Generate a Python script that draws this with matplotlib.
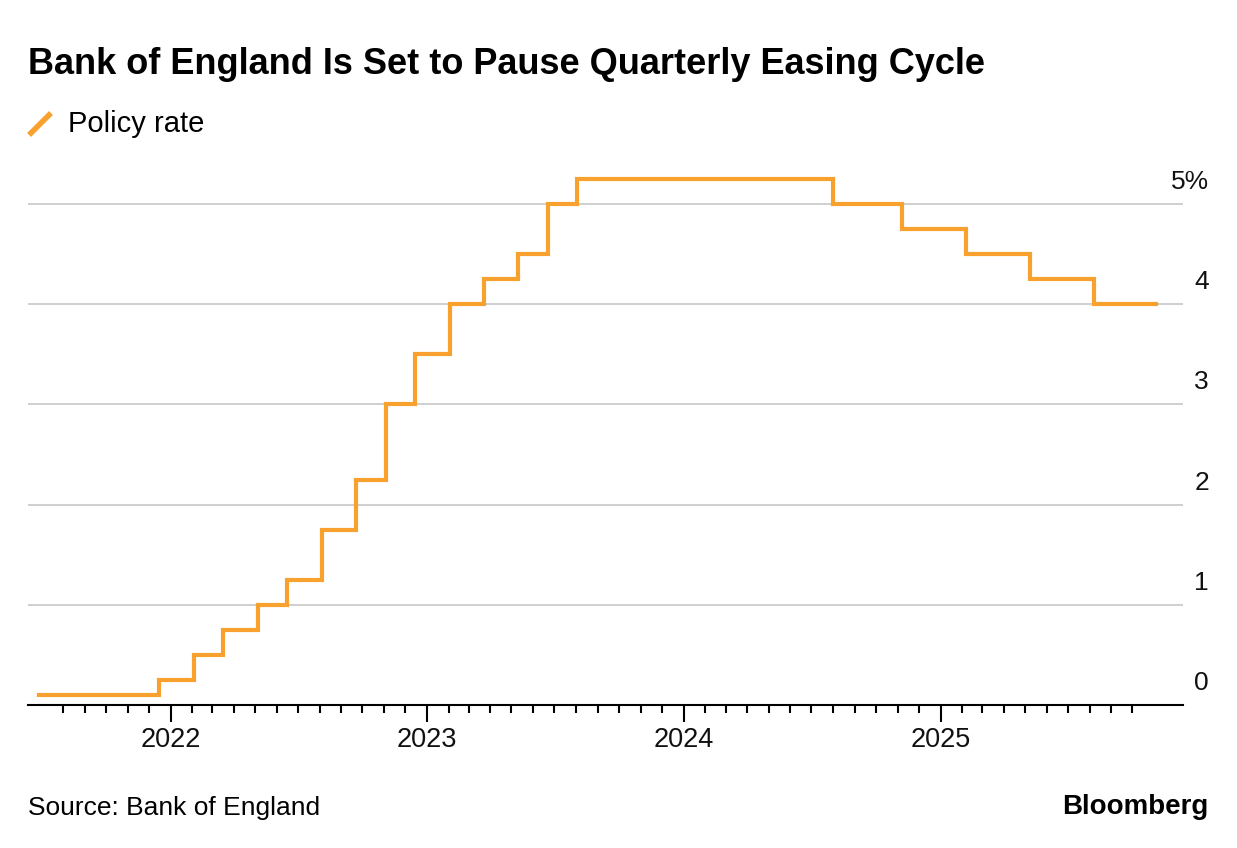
import pandas as pd
import matplotlib
matplotlib.use('Agg')
import matplotlib.pyplot as plt
import matplotlib.transforms as mtransforms
from matplotlib.lines import Line2D

# Bank Rate decisions (date of change, new rate %)
change_dates = ['2021-06-28', '2021-12-16', '2022-02-03', '2022-03-17', '2022-05-05',
                '2022-06-16', '2022-08-04', '2022-09-22', '2022-11-03', '2022-12-15',
                '2023-02-02', '2023-03-23', '2023-05-11', '2023-06-22', '2023-08-03',
                '2024-08-01', '2024-11-07', '2025-02-06', '2025-05-08', '2025-08-07',
                '2025-11-04']
rates = [0.1, 0.25, 0.5, 0.75, 1.0,
         1.25, 1.75, 2.25, 3.0, 3.5,
         4.0, 4.25, 4.5, 5.0, 5.25,
         5.0, 4.75, 4.5, 4.25, 4.0,
         4.0]
y_ticks = [0, 1, 2, 3, 4, 5]
y_labels = ['0', '1', '2', '3', '4', '5%']
year_ticks = ['2022-01-01', '2023-01-01', '2024-01-01', '2025-01-01']
year_labels = ['2022', '2023', '2024', '2025']

df = pd.DataFrame({'date': pd.to_datetime(change_dates), 'rate': rates})

orange = '#F9A12E'
plt.rcParams['font.family'] = ['Liberation Sans', 'DejaVu Sans']

fig = plt.figure(figsize=(12.37, 8.48), dpi=100)
ax = fig.add_axes([0.0226, 0.1686, 0.9338, 0.638])

ax.step(df['date'], df['rate'], where='post', color=orange, lw=3.0,
        solid_joinstyle='miter', zorder=3)

ax.set_xlim(pd.Timestamp('2021-06-12'), pd.Timestamp('2025-12-12'))
ax.set_ylim(0, 5.4)

# gridlines and right-side labels
trans = mtransforms.blended_transform_factory(fig.transFigure, ax.transData)
for v, lab in zip(y_ticks, y_labels):
    if v > 0:
        ax.axhline(v, color='#cccccc', lw=1.3, zorder=1)
    ax.text(1209 / 1237, v + 0.1, lab, transform=trans, ha='right', va='bottom',
            fontsize=19, color='#111111')
ax.set_yticks([])

for s in ['top', 'right', 'left']:
    ax.spines[s].set_visible(False)
ax.spines['bottom'].set_color('black')
ax.spines['bottom'].set_linewidth(1.5)

ax.set_xticks(pd.to_datetime(year_ticks))
ax.set_xticklabels(year_labels, fontsize=19.5, color='#111111')
ax.set_xticks(pd.date_range('2021-08-01', '2025-10-01', freq='MS'), minor=True)
ax.tick_params(axis='x', which='major', length=12, width=1.5, pad=4)
ax.tick_params(axis='x', which='minor', length=6, width=1.5)

# title, legend, footer
fig.text(28 / 1237, 1 - 64 / 848, 'Bank of England Is Set to Pause Quarterly Easing Cycle',
         fontsize=26, fontweight='bold', va='center', ha='left', color='black')
fig.lines.append(Line2D([31 / 1237, 49 / 1237], [1 - 133 / 848, 1 - 115 / 848],
                        transform=fig.transFigure, color=orange, lw=4))
fig.text(68 / 1237, 1 - 124 / 848, 'Policy rate', fontsize=21, va='center', ha='left')
fig.text(28 / 1237, 1 - 808 / 848, 'Source: Bank of England', fontsize=19,
         va='center', ha='left')
fig.text(1208 / 1237, 1 - 807 / 848, 'Bloomberg', fontsize=20, fontweight='bold',
         va='center', ha='right')

fig.savefig('out.png', dpi=100)
